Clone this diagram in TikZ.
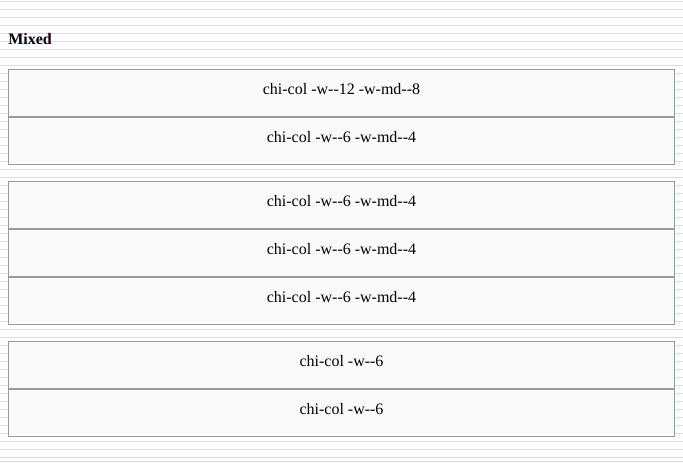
\documentclass[tikz,border=0pt]{standalone}
\usepackage{fontspec}
\setmainfont{Liberation Serif}[Ligatures=TeXOff]
\usepackage{tikz}
\usetikzlibrary{positioning}
\definecolor{gridcyan}{RGB}{150,250,238}
\definecolor{cellgray}{RGB}{153,153,153}
\definecolor{cellfill}{RGB}{250,250,250}

\begin{document}
\begin{tikzpicture}[
  x=0.75pt, y=-0.75pt,
  gridline/.style={draw=gridcyan, line width=0.75pt},
  cell/.style={rectangle, draw=cellgray, fill=cellfill, line width=0.75pt,
               minimum width=666*0.75pt, minimum height=47*0.75pt,
               inner sep=0pt, text height=8.25pt, text depth=6pt,
               align=center, font=\fontsize{12pt}{14pt}\selectfont},
  heading/.style={anchor=base west, inner sep=0pt,
                  font=\fontsize{12pt}{14pt}\selectfont\bfseries},
]
  \useasboundingbox (0,0) rectangle (683,462);

  % baseline grid behind everything
  \foreach \y in {1,9,...,457,461}
    \draw[gridline] (0,\y) -- (683,\y);

  \node[heading] (mixed) at (8,44) {Mixed};

  \node[cell] (c1) at (341.5,93)  {chi-col -w--12 -w-md--8};
  \node[cell] (c2) at (341.5,141) {chi-col -w--6 -w-md--4};

  \node[cell] (c3) at (341.5,205) {chi-col -w--6 -w-md--4};
  \node[cell] (c4) at (341.5,253) {chi-col -w--6 -w-md--4};
  \node[cell] (c5) at (341.5,301) {chi-col -w--6 -w-md--4};

  \node[cell] (c6) at (341.5,365) {chi-col -w--6};
  \node[cell] (c7) at (341.5,413) {chi-col -w--6};
\end{tikzpicture}
\end{document}
